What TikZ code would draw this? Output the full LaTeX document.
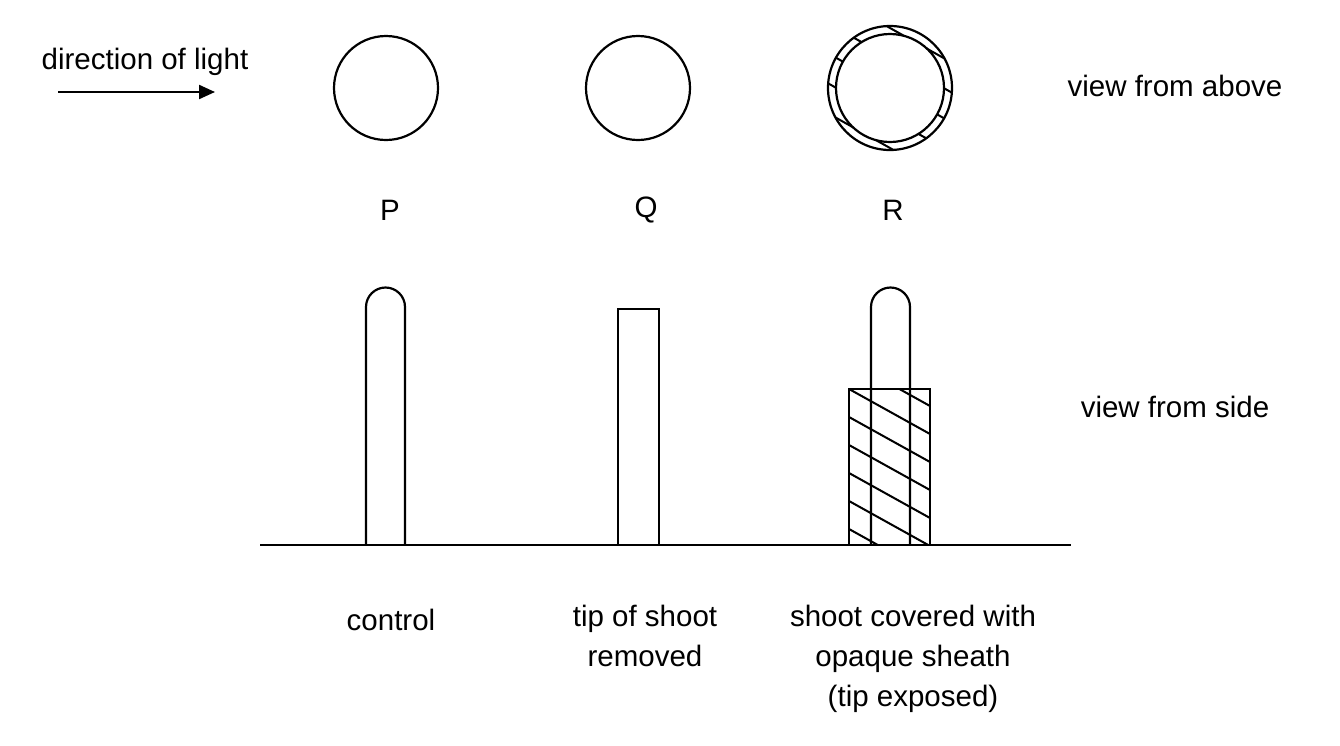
\documentclass[tikz,border=0pt]{standalone}
\usepackage{fontspec}
\setmainfont{Liberation Sans}
\usetikzlibrary{arrows.meta}
\begin{document}
\begin{tikzpicture}[x=1pt,y=-1pt,line width=2.2pt,
  lbl/.style={font=\fontsize{29.5}{40}\selectfont,align=center,inner sep=0pt},
  hatch/.style={line width=2pt}]
\useasboundingbox (0,0) rectangle (1340,745);
% top view
\node[draw,circle,minimum size=104pt,line width=2.2pt] (cP) at (386,88) {};
\node[draw,circle,minimum size=104pt,line width=2.2pt] (cQ) at (638,88) {};
\begin{scope}[even odd rule]
  \clip (890,88) circle (62) (890,88) circle (54);
  \foreach \k in {-8,...,8} \draw[hatch] (790,{88+\k*30-56}) -- (990,{88+\k*30+56});
\end{scope}
\node[draw,circle,minimum size=124pt,line width=2.2pt] (cRo) at (890,88) {};
\node[draw,circle,minimum size=108pt,line width=2.2pt] (cRi) at (890,88) {};
% arrow
\coordinate (a1) at (58,92); \coordinate (a2) at (215,92);
\draw[-{Triangle[length=16pt,width=14pt]}] (a1) -- (a2);
\node[lbl] (dl) at (145,62) {direction of light};
\node[lbl] (va) at (1175,86) {view from above};
\node[lbl] (vs) at (1175,407) {view from side};
\node[lbl] (P) at (390,210) {P};
\node[lbl] (Q) at (646,210) {Q};
\node[lbl] (R) at (893,210) {R};
% ground
\coordinate (g1) at (260,545); \coordinate (g2) at (1071,545);
% P shoot
\draw (366,545) -- (366,307) arc[start angle=180,end angle=360,radius=19.5] -- (405,545);
% Q
\draw (618,545) -- (618,309) -- (659,309) -- (659,545);
% R sheath hatch
\begin{scope}
  \clip (849,389) rectangle (930,545);
  \foreach \k in {-4,...,8} \draw[hatch] (849,{389+\k*28}) -- (930,{389+\k*28+45});
\end{scope}
\draw (871,545) -- (871,307) arc[start angle=180,end angle=360,radius=19.5] -- (910,545);
\draw (849,545) -- (849,389) -- (930,389) -- (930,545);
\draw (g1) -- (g2);
\node[lbl] (c1) at (391,620) {control};
\node[lbl,anchor=north] (c2) at (645,604) {tip of shoot\\removed};
\node[lbl,anchor=north] (c3) at (913,604) {shoot covered with\\opaque sheath\\(tip exposed)};
\end{tikzpicture}
\end{document}
